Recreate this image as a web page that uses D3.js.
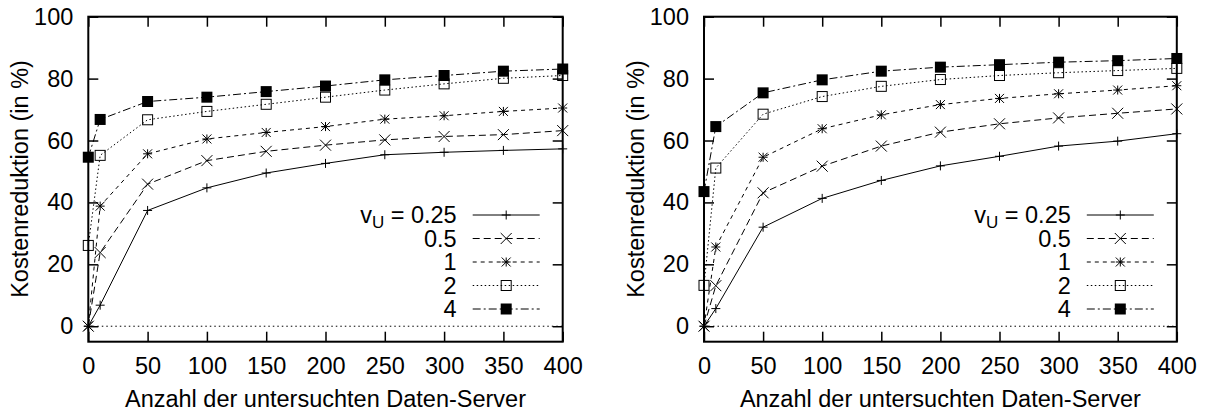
<!DOCTYPE html>
<html>
<head>
<meta charset="utf-8">
<script src="https://cdn.jsdelivr.net/npm/d3@7"></script>
<style>
  body { margin: 0; background: #fff; }
  text { font-family: "Liberation Sans", Arial, Helvetica, sans-serif; fill: #000; }
</style>
</head>
<body>
<svg width="1205" height="414"></svg>
<script>
// Daten
const serverCounts = [0, 10, 50, 100, 150, 200, 250, 300, 350, 400];
const vuLabels = ["0.25", "0.5", "1", "2", "4"];
const xTicks = [0, 50, 100, 150, 200, 250, 300, 350, 400];
const yTicks = [0, 20, 40, 60, 80, 100];

// linkes Diagramm
const left025 = [0, 6.8, 37.4, 44.7, 49.5, 52.6, 55.4, 56.2, 56.8, 57.3];
const left05  = [0, 23.8, 45.9, 53.5, 56.5, 58.5, 60.2, 61.3, 61.9, 63.2];
const left1   = [0, 38.8, 55.7, 60.5, 62.6, 64.5, 66.9, 68.0, 69.4, 70.5];
const left2   = [26.1, 55.2, 66.7, 69.4, 71.7, 74.0, 76.3, 78.3, 80.1, 81.0];
const left4   = [54.6, 66.8, 72.6, 74.0, 75.8, 77.6, 79.6, 81.0, 82.4, 83.1];

// rechtes Diagramm
const right025 = [0, 5.7, 32.0, 41.3, 47.1, 51.8, 54.9, 58.2, 59.8, 62.2];
const right05  = [0, 13.1, 43.1, 51.7, 58.2, 62.7, 65.4, 67.3, 68.8, 70.2];
const right1   = [0, 25.6, 54.6, 63.8, 68.3, 71.6, 73.6, 75.1, 76.3, 77.7];
const right2   = [13.2, 51.1, 68.5, 74.2, 77.5, 79.7, 81.0, 81.9, 82.6, 83.3];
const right4   = [43.5, 64.5, 75.4, 79.6, 82.4, 83.7, 84.5, 85.3, 85.8, 86.5];

const svg = d3.select('svg');
const fontSize = 23.5;

// Linienstil und Symbol je Kurve
const styles = [
  {dash: null,        marker: 'plus'},
  {dash: '7,4',       marker: 'cross'},
  {dash: '4,4',       marker: 'star'},
  {dash: '1.5,2.5',   marker: 'box'},
  {dash: '8,3,2,3',   marker: 'fbox'}
];

function drawMarker(g, type, x, y) {
  const s = 4.5;
  if (type == 'plus' || type == 'star') {
    g.append('path').attr('d', `M${x-s},${y}H${x+s}M${x},${y-s}V${y+s}`)
      .attr('stroke', '#000').attr('stroke-width', 1);
  }
  if (type == 'cross' || type == 'star') {
    const c = type == 'cross' ? 5.5 : 4.5;
    g.append('path').attr('d', `M${x-c},${y-c}L${x+c},${y+c}M${x-c},${y+c}L${x+c},${y-c}`)
      .attr('stroke', '#000').attr('stroke-width', 1);
  }
  if (type == 'box') {
    g.append('rect').attr('x', x-5).attr('y', y-5).attr('width', 10).attr('height', 10)
      .attr('fill', 'none').attr('stroke', '#000').attr('stroke-width', 1);
  }
  if (type == 'fbox') {
    g.append('rect').attr('x', x-5.5).attr('y', y-5.5).attr('width', 11).attr('height', 11)
      .attr('fill', '#000');
  }
}

function drawPanel(x0, x1, seriesList) {
  const xScale = d3.scaleLinear().domain([0, 400]).range([x0, x1]);
  const yScale = d3.scaleLinear().domain([-5, 100]).range([341.7, 16.7]);
  const g = svg.append('g');

  // Nulllinie (gepunktet)
  g.append('line')
    .attr('x1', xScale(0)).attr('x2', xScale(400))
    .attr('y1', yScale(0)).attr('y2', yScale(0))
    .attr('stroke', '#000').attr('stroke-width', 1)
    .attr('stroke-dasharray', '1.5,3');

  // Achsen mit Ticks nach innen
  const bottom = g.append('g').attr('transform', `translate(0,${yScale.range()[0]})`)
    .call(d3.axisBottom(xScale).tickValues(xTicks).tickSize(-10).tickPadding(16));
  const top = g.append('g').attr('transform', `translate(0,${yScale.range()[1]})`)
    .call(d3.axisTop(xScale).tickValues(xTicks).tickSize(-10).tickFormat(''));
  const leftAx = g.append('g').attr('transform', `translate(${x0},0)`)
    .call(d3.axisLeft(yScale).tickValues(yTicks).tickSize(-10).tickPadding(15));
  const rightAx = g.append('g').attr('transform', `translate(${x1},0)`)
    .call(d3.axisRight(yScale).tickValues(yTicks).tickSize(-10).tickFormat(''));
  [bottom, top, leftAx, rightAx].forEach(a => {
    a.select('.domain').remove();
    a.selectAll('line').attr('stroke', '#000').attr('stroke-width', 1.5);
    a.selectAll('text').style('font-size', fontSize + 'px')
      .style('font-family', '"Liberation Sans", Arial, sans-serif').attr('fill', '#000');
  });

  // Rahmen
  g.append('rect')
    .attr('x', x0).attr('y', yScale.range()[1])
    .attr('width', x1 - x0).attr('height', yScale.range()[0] - yScale.range()[1])
    .attr('fill', 'none').attr('stroke', '#000').attr('stroke-width', 2);

  // Kurven
  const line = d3.line().x((d, i) => xScale(serverCounts[i])).y(d => yScale(d));
  seriesList.forEach((vals, k) => {
    g.append('path').datum(vals)
      .attr('d', line)
      .attr('fill', 'none').attr('stroke', '#000').attr('stroke-width', 1)
      .attr('stroke-dasharray', styles[k].dash);
    vals.forEach((v, i) => drawMarker(g, styles[k].marker, xScale(serverCounts[i]), yScale(v)));
  });

  // Achsentitel
  g.append('text')
    .attr('x', (x0 + x1) / 2).attr('y', 407)
    .attr('text-anchor', 'middle')
    .style('font-size', fontSize + 'px')
    .text('Anzahl der untersuchten Daten-Server');
  g.append('text')
    .attr('transform', `translate(${x0 - 60},179) rotate(-90)`)
    .attr('text-anchor', 'middle')
    .style('font-size', fontSize + 'px')
    .text('Kostenreduktion (in %)');

  // Legende
  const textRight = x1 - 106;
  const lineStart = x1 - 90;
  const lineEnd = x1 - 23;
  vuLabels.forEach((lab, k) => {
    const yy = 215 + k * 23.5;
    const t = g.append('text')
      .attr('x', textRight).attr('y', yy + 8)
      .attr('text-anchor', 'end')
      .style('font-size', fontSize + 'px');
    if (k == 0) {
      t.append('tspan').text('v');
      t.append('tspan').attr('dy', 5).style('font-size', '17px').text('U');
      t.append('tspan').attr('dy', -5).text(' = ' + lab);
    } else {
      t.text(lab);
    }
    g.append('line')
      .attr('x1', lineStart).attr('x2', lineEnd)
      .attr('y1', yy).attr('y2', yy)
      .attr('stroke', '#000').attr('stroke-width', 1)
      .attr('stroke-dasharray', styles[k].dash);
    drawMarker(g, styles[k].marker, (lineStart + lineEnd) / 2, yy);
  });
}

drawPanel(88.3, 562.7, [left025, left05, left1, left2, left4]);
drawPanel(704, 1176.8, [right025, right05, right1, right2, right4]);
</script>
</body>
</html>
